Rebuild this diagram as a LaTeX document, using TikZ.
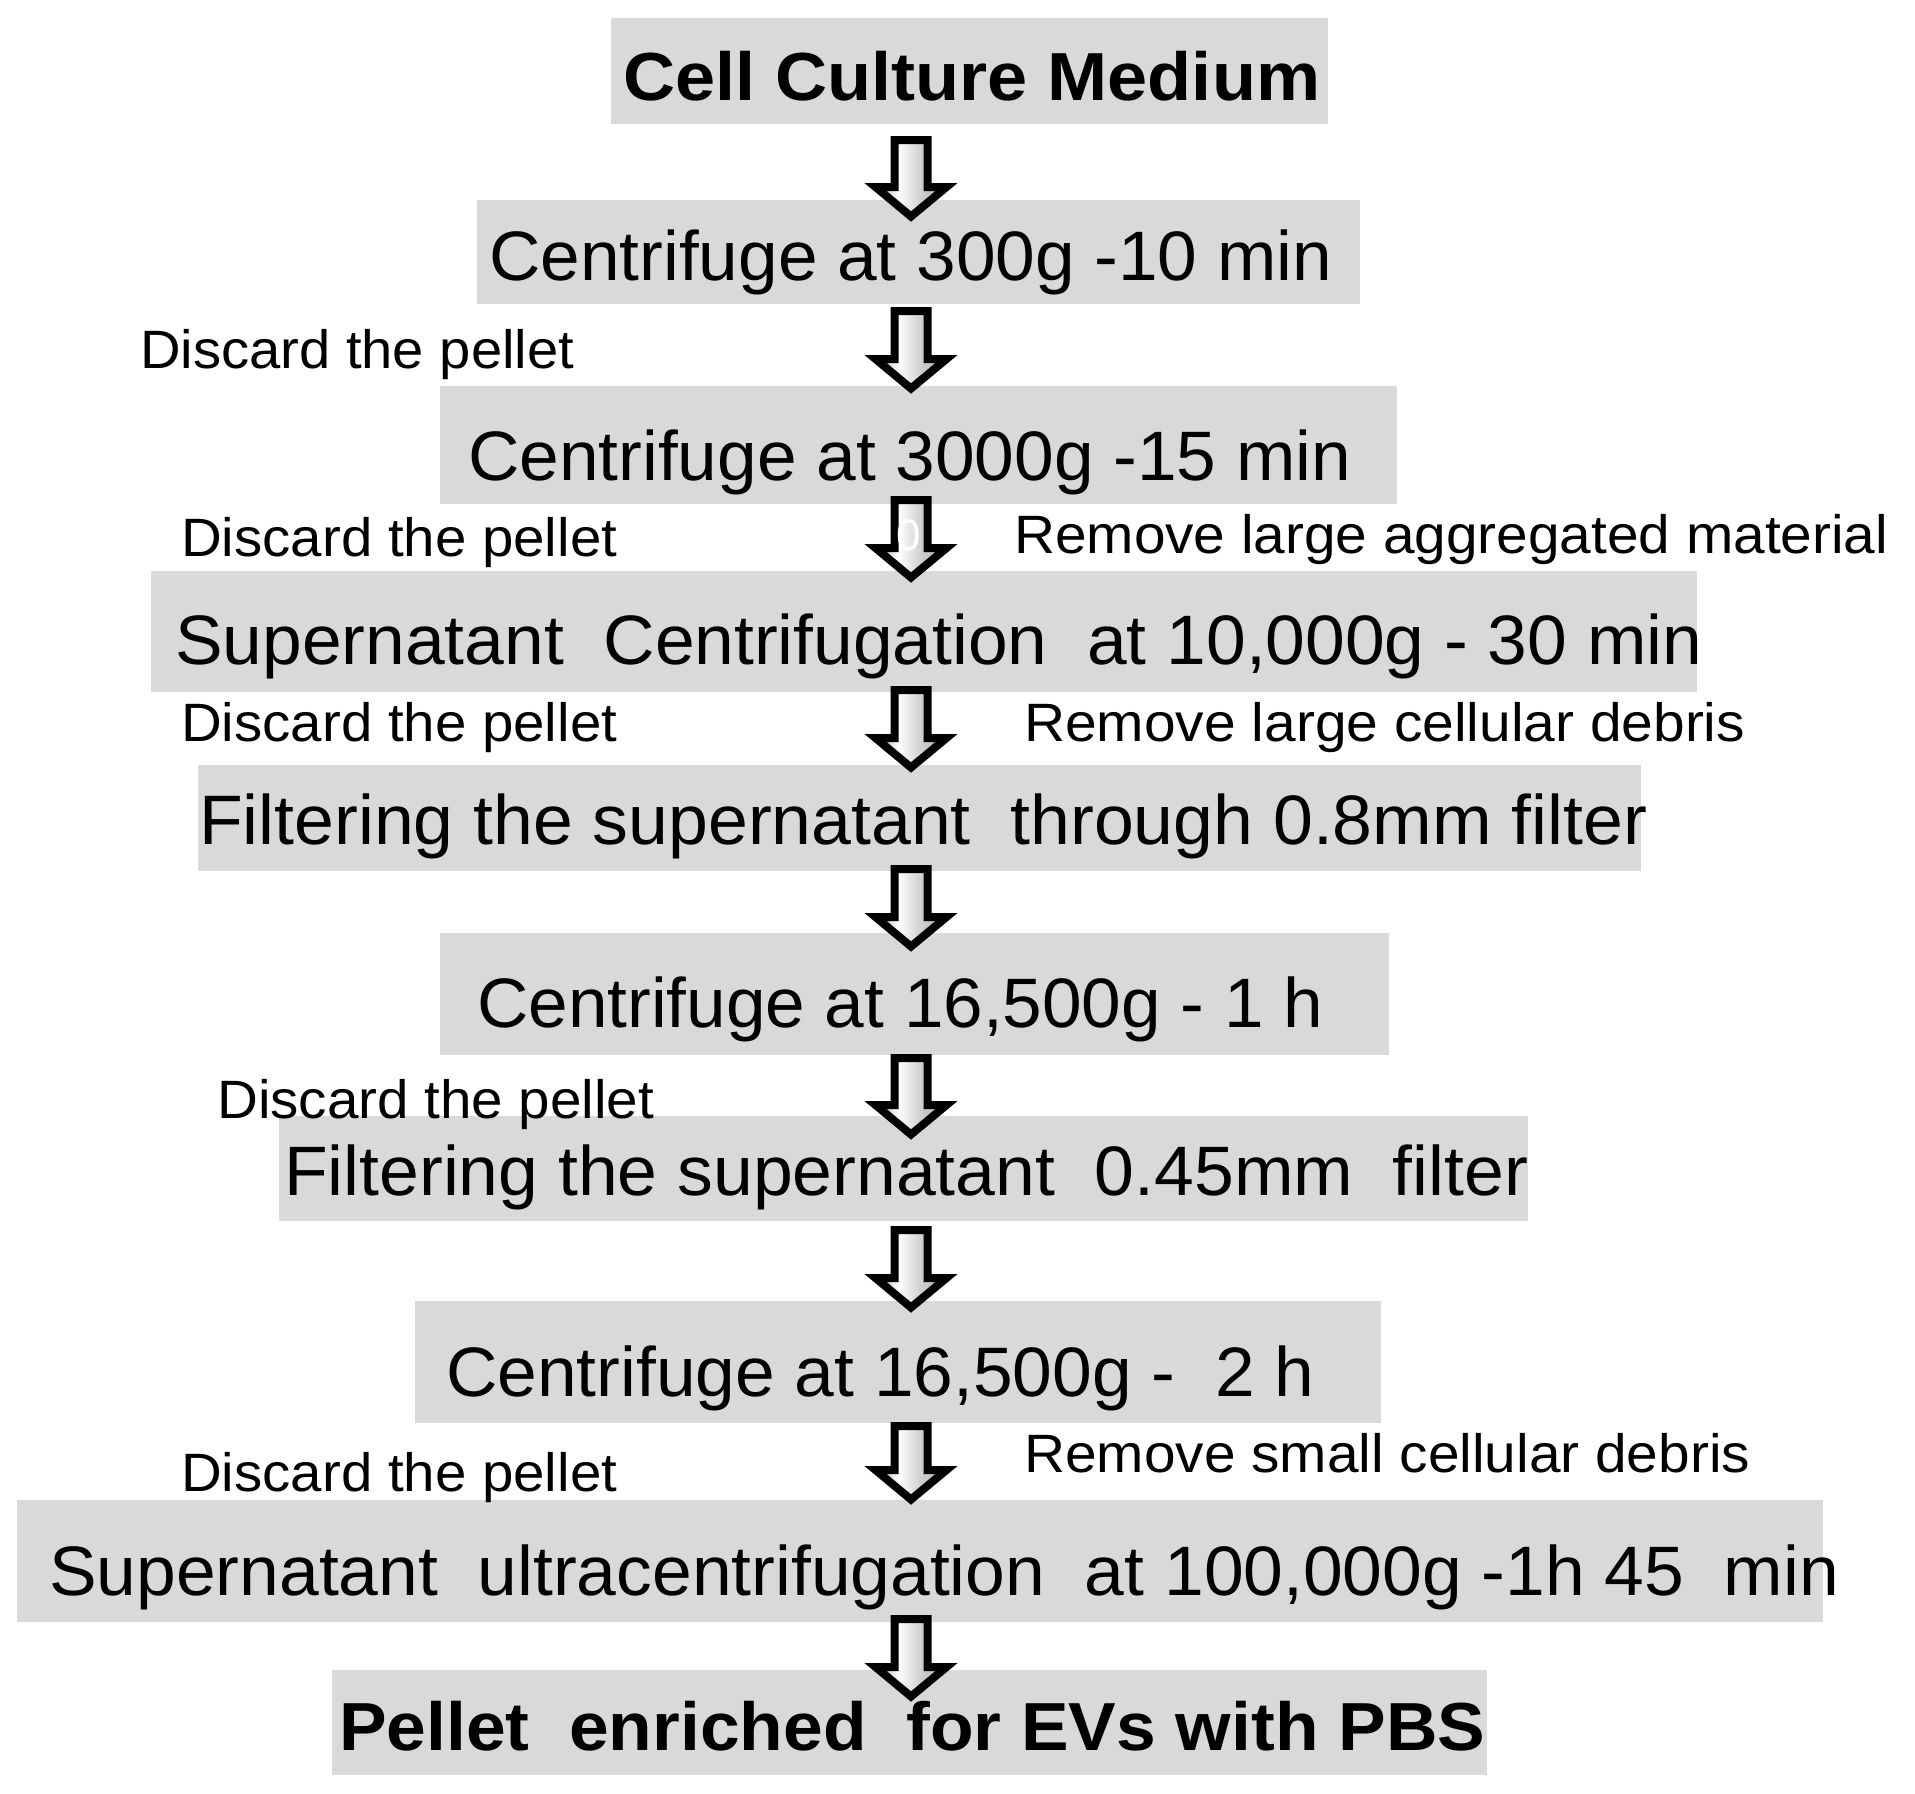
\documentclass[tikz,border=0pt]{standalone}
\usepackage{fontspec}
\setmainfont{Liberation Sans}
\usetikzlibrary{calc}
\definecolor{boxgray}{HTML}{D9D9D9}
\pgfdeclarehorizontalshading{arrowshade}{100bp}{color(0bp)=(gray!75); color(25bp)=(gray!75); color(41bp)=(white); color(58bp)=(gray!40); color(75bp)=(gray!62); color(100bp)=(gray!62)}
\newcommand\fitw[2]{\resizebox{#1}{\height}{#2}}
\newcommand\blockarrow[2]{%
  \draw[flowarrow] let \p1=(#1), \p2=(#2) in
    (\x1-16.5pt,\y1-4pt) -- (\x1+16.5pt,\y1-4pt) -- (\x1+16.5pt,\y2+35pt)
    -- (\x1+35.5pt,\y2+35pt) -- (\x1,\y2+5.5pt) -- (\x1-35.5pt,\y2+35pt)
    -- (\x1-16.5pt,\y2+35pt) -- cycle;}
\tikzset{
  box/.style={fill=boxgray, draw=none, inner sep=0pt, outer sep=0pt},
  maintxt/.style={anchor=base west, inner sep=0pt, font=\fontsize{70}{84}\selectfont},
  boldtxt/.style={anchor=base west, inner sep=0pt, font=\fontsize{68}{80}\selectfont\bfseries},
  sidetxt/.style={anchor=base west, inner sep=0pt, font=\fontsize{54}{64}\selectfont},
  flowarrow/.style={draw=black, line width=8pt, line join=miter, miter limit=10, shading=arrowshade},
}
\begin{document}
\begin{tikzpicture}[x=1pt, y=-1pt]
\useasboundingbox[fill=white] (0,0) rectangle (1915,1794);
% boxes
\node[box, minimum width=717pt,  minimum height=106pt] (b1)  at (969.5,71) {};
\node[box, minimum width=883pt,  minimum height=104pt] (b2)  at (918.5,252) {};
\node[box, minimum width=957pt,  minimum height=118pt] (b3)  at (918.5,445) {};
\node[box, minimum width=1546pt, minimum height=121pt] (b4)  at (924,631.5) {};
\node[box, minimum width=1443pt, minimum height=106pt] (b5)  at (919.5,818) {};
\node[box, minimum width=949pt,  minimum height=122pt] (b6)  at (914.5,994) {};
\node[box, minimum width=1249pt, minimum height=105pt] (b7)  at (903.5,1168.5) {};
\node[box, minimum width=966pt,  minimum height=122pt] (b8)  at (898,1362) {};
\node[box, minimum width=1806pt, minimum height=122pt] (b9)  at (920,1561) {};
\node[box, minimum width=1155pt, minimum height=105pt] (b10) at (909.5,1722.5) {};
% box texts
\node[boldtxt] (t1)  at (623,100)  {\fitw{697pt}{Cell Culture Medium}};
\node[maintxt] (t2)  at (489,280)  {\fitw{843pt}{Centrifuge at 300g -10 min}};
\node[maintxt] (t3)  at (468,480)  {\fitw{883pt}{Centrifuge at 3000g -15 min}};
\node[maintxt] (t4)  at (175,664)  {\fitw{1527pt}{Supernatant\ \ Centrifugation\ \ at 10,000g - 30 min}};
\node[maintxt] (t5)  at (199,844)  {\fitw{1448pt}{Filtering the supernatant\ \ through 0.8mm filter}};
\node[maintxt] (t6)  at (477,1027) {\fitw{846pt}{Centrifuge at 16,500g - 1 h}};
\node[maintxt] (t7)  at (284,1195) {\fitw{1244pt}{Filtering the supernatant\ \ 0.45mm\ \ filter}};
\node[maintxt] (t8)  at (446,1396) {\fitw{868pt}{Centrifuge at 16,500g -\ \ 2 h}};
\node[maintxt] (t9)  at (49,1595)  {\fitw{1790pt}{Supernatant\ \ ultracentrifugation\ \ at 100,000g -1h 45\ \ min}};
\node[boldtxt] (t10) at (339,1750) {\fitw{1146pt}{Pellet\ \ enriched\ \ for EVs with PBS}};
% side labels
\node[sidetxt] (l1) at (140,368)  {\fitw{434pt}{Discard the pellet}};
\node[sidetxt] (l2) at (181,556)  {\fitw{436pt}{Discard the pellet}};
\node[sidetxt] (l3) at (1014,553) {\fitw{874pt}{Remove large aggregated material}};
\node[sidetxt] (l4) at (181,741)  {\fitw{436pt}{Discard the pellet}};
\node[sidetxt] (l5) at (1024,741) {\fitw{721pt}{Remove large cellular debris}};
\node[sidetxt] (l6) at (217,1118) {\fitw{437pt}{Discard the pellet}};
\node[sidetxt] (l7) at (1024,1472) {\fitw{726pt}{Remove small cellular debris}};
\node[sidetxt] (l8) at (181,1491) {\fitw{436pt}{Discard the pellet}};
% arrows
\coordinate (a1s) at (911,136);  \coordinate (a1e) at (911,222);
\coordinate (a2s) at (911,307);  \coordinate (a2e) at (911,394);
\coordinate (a3s) at (911,496);  \coordinate (a3e) at (911,583);
\coordinate (a4s) at (911,686);  \coordinate (a4e) at (911,773);
\coordinate (a5s) at (911,865);  \coordinate (a5e) at (911,952);
\coordinate (a6s) at (911,1054); \coordinate (a6e) at (911,1140);
\coordinate (a7s) at (911,1226); \coordinate (a7e) at (911,1313);
\coordinate (a8s) at (911,1422); \coordinate (a8e) at (911,1505);
\coordinate (a9s) at (911,1615); \coordinate (a9e) at (911,1702);
\blockarrow{a1s}{a1e}
\blockarrow{a2s}{a2e}
\blockarrow{a3s}{a3e}
\blockarrow{a4s}{a4e}
\blockarrow{a5s}{a5e}
\blockarrow{a6s}{a6e}
\blockarrow{a7s}{a7e}
\blockarrow{a8s}{a8e}
\blockarrow{a9s}{a9e}
\node[inner sep=0pt, text=white, font=\fontsize{44}{50}\selectfont] (zero) at (909,535) {0};
\end{tikzpicture}
\end{document}
